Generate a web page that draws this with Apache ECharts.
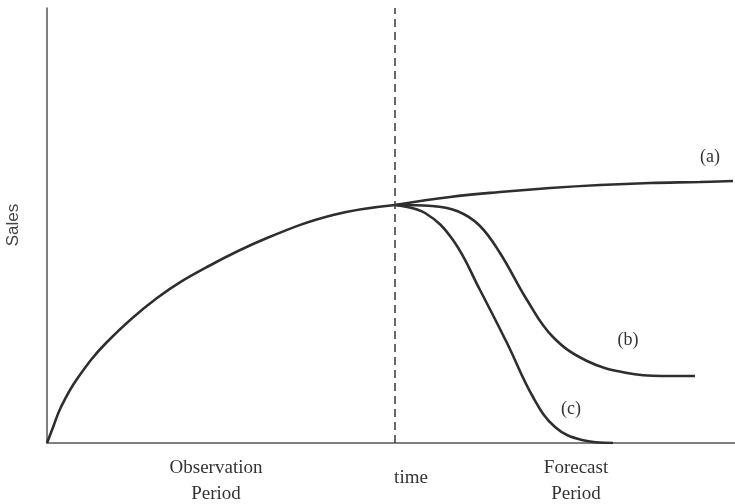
<!DOCTYPE html>
<html><head><meta charset="utf-8">
<script src="https://cdn.jsdelivr.net/npm/echarts@6/dist/echarts.min.js"></script>
<style>html,body{margin:0;padding:0;background:#fff}#c{width:735px;height:504px}</style>
</head><body><div id="c"></div>
<script>
// x = time units from origin, y = sales units from baseline
const observed = [[0,0],[5,13],[14,36],[30,64],[60,101],[110,145],[160,176],[220,205],[286,228],[348,238]];
const curveA = [[348,238],[403,246],[453,251],[503,255],[553,258],[603,260],[653,261],[686,262]];
const curveB = [[348,238],[385,237],[410,232],[432,218],[453,190],[480,143],[506,106],[540,82],[580,70],[615,67],[648,67]];
const curveC = [[348,238],[378,230],[406,203],[433,153],[460,100],[486,46],[508,16],[535,3],[566,0]];
const forecastStart = 348;
const labels = {a:'(a)', b:'(b)', c:'(c)'};

const font = '"Liberation Serif", "DejaVu Serif", serif';
const lineStyle = {color:'#2e2e2e', width:2.6};
function s(data){return {type:'line', data, smooth:0.4, showSymbol:false, lineStyle, silent:true};}

const chart = echarts.init(document.getElementById('c'));
chart.setOption({
  animation:false,
  grid:{left:47,right:0,top:8,bottom:61},
  xAxis:{type:'value',min:0,max:688,axisLine:{show:true,lineStyle:{color:'#555',width:1.5}},axisTick:{show:false},axisLabel:{show:false},splitLine:{show:false}},
  yAxis:{type:'value',min:0,max:435,axisLine:{show:true,lineStyle:{color:'#555',width:1.5}},axisTick:{show:false},axisLabel:{show:false},splitLine:{show:false}},
  series:[
    Object.assign(s(observed),{markLine:{silent:true,symbol:'none',label:{show:false},lineStyle:{type:[8,5],color:'#444',width:1.6},data:[{xAxis:forecastStart}]}}),
    s(curveA), s(curveB), s(curveC)
  ],
  graphic:[
    {type:'text',x:13,y:225,rotation:Math.PI/2,style:{text:'Sales',font:'17px "Liberation Sans", Arial, sans-serif',fill:'#444',align:'center',verticalAlign:'middle'}},
    {type:'text',x:216,y:468,style:{text:'Observation',font:'19px '+font,fill:'#333',align:'center',verticalAlign:'middle'}},
    {type:'text',x:216,y:494,style:{text:'Period',font:'19px '+font,fill:'#333',align:'center',verticalAlign:'middle'}},
    {type:'text',x:411,y:478,style:{text:'time',font:'19px '+font,fill:'#333',align:'center',verticalAlign:'middle'}},
    {type:'text',x:576,y:468,style:{text:'Forecast',font:'19px '+font,fill:'#333',align:'center',verticalAlign:'middle'}},
    {type:'text',x:576,y:494,style:{text:'Period',font:'19px '+font,fill:'#333',align:'center',verticalAlign:'middle'}},
    {type:'text',x:710,y:157,style:{text:labels.a,font:'18px '+font,fill:'#333',align:'center',verticalAlign:'middle'}},
    {type:'text',x:628,y:340,style:{text:labels.b,font:'18px '+font,fill:'#333',align:'center',verticalAlign:'middle'}},
    {type:'text',x:571,y:409,style:{text:labels.c,font:'18px '+font,fill:'#333',align:'center',verticalAlign:'middle'}}
  ]
});
</script></body></html>
